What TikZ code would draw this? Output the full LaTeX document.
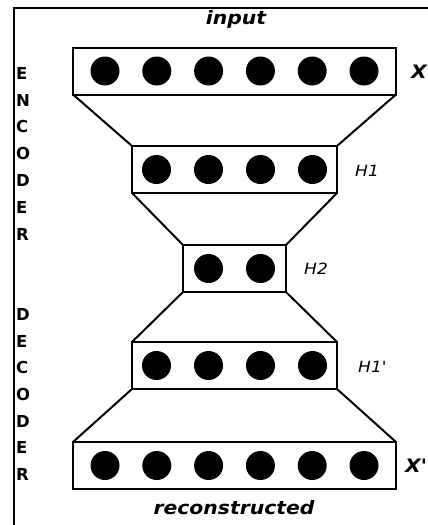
\documentclass[tikz,border=0pt]{standalone}
\usepackage{fontspec}
\setmainfont{DejaVu Sans}
\newfontfamily\lblfont[FakeStretch=1.1]{DejaVu Sans}
\begin{document}
\begin{tikzpicture}[x=1pt,y=-1pt,
  layer/.style={draw,line width=2pt,rectangle,outer sep=0pt,inner sep=0pt,minimum height=47pt},
  unit/.style={circle,fill=black,inner sep=0pt,minimum size=29pt},
  title/.style={font=\lblfont\fontsize{18.5}{18.5}\selectfont\bfseries\itshape},
  hname/.style={font=\lblfont\fontsize{15.5}{15.5}\selectfont\itshape,anchor=west},
  side/.style={font=\fontsize{16.5}{16.5}\selectfont\bfseries,anchor=west,inner sep=0pt}]
\useasboundingbox (0,0) rectangle (428,525);
\coordinate (fb) at (14,525);
\coordinate (ft) at (14,8);
\coordinate (fr) at (430,8);
\draw[line width=1.5pt] (fb) -- (ft) -- (fr);
% layers
\node[layer,minimum width=323pt] (b1) at (234.5,71) {};
\node[layer,minimum width=205pt] (b2) at (234.5,169.5) {};
\node[layer,minimum width=103pt] (b3) at (234.5,268.5) {};
\node[layer,minimum width=205pt] (b4) at (234.5,365.5) {};
\node[layer,minimum width=323pt] (b5) at (234.5,465.5) {};
% units
\foreach \i/\dx in {1/-129.5,2/-77.7,3/-25.9,4/25.9,5/77.7,6/129.5}{
  \node[unit] (u1\i) at (234.5+\dx,71) {};
  \node[unit] (u5\i) at (234.5+\dx,465.5) {};
}
\foreach \i/\dx in {1/-78,2/-26,3/26,4/78}{
  \node[unit] (u2\i) at (234.5+\dx,169.5) {};
  \node[unit] (u4\i) at (234.5+\dx,365.5) {};
}
\foreach \i/\dx in {1/-26,2/26}{
  \node[unit] (u3\i) at (234.5+\dx,268.5) {};
}
% connectors
\draw[line width=2pt] (b1.south west) -- (b2.north west);
\draw[line width=2pt] (b1.south east) -- (b2.north east);
\draw[line width=2pt] (b2.south west) -- (b3.north west);
\draw[line width=2pt] (b2.south east) -- (b3.north east);
\draw[line width=2pt] (b3.south west) -- (b4.north west);
\draw[line width=2pt] (b3.south east) -- (b4.north east);
\draw[line width=2pt] (b4.south west) -- (b5.north west);
\draw[line width=2pt] (b4.south east) -- (b5.north east);
% labels
\node[title] (tin) at (236,19) {input};
\node[title] (tout) at (234,508) {reconstructed};
\node[title,anchor=west,inner sep=0pt] (lx) at (411,72) {X};
\node[title,anchor=west,inner sep=0pt] (lxp) at (405,466) {X'};
\node[hname,inner sep=0pt] (lh1) at (355,171) {H1};
\node[hname,inner sep=0pt] (lh2) at (304,269) {H2};
\node[hname,inner sep=0pt] (lh1p) at (358,367) {H1'};
% side letters
\foreach \l/\y [count=\k] in {E/73,N/100,C/126,O/153,D/180,E/207,R/234}{
  \node[side] (enc\k) at (16,\y) {\l};
}
\foreach \l/\y [count=\k] in {D/314,E/341,C/367,O/394,D/421,E/447,R/474}{
  \node[side] (dec\k) at (16,\y) {\l};
}
\end{tikzpicture}
\end{document}
